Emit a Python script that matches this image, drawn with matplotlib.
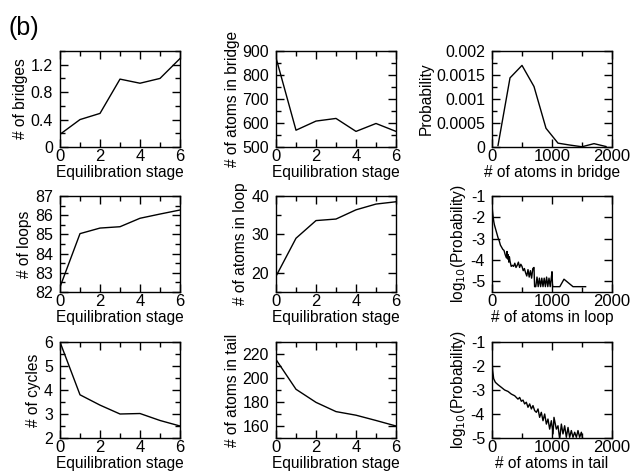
import matplotlib
matplotlib.use("Agg")
import matplotlib.pyplot as plt
from matplotlib.ticker import MultipleLocator, FuncFormatter

plt.rcParams['font.family'] = ['Liberation Sans', 'DejaVu Sans']

# ---------------- data ----------------
stage = [0, 1, 2, 3, 4, 5, 6]
n_bridges = [0.185, 0.40, 0.49, 0.99, 0.93, 1.00, 1.29]
atoms_bridge = [872, 570, 608, 619, 565, 598, 565]
n_loops = [82.26, 85.04, 85.33, 85.40, 85.84, 86.06, 86.27]
atoms_loop = [19.1, 29.0, 33.6, 34.0, 36.4, 37.9, 38.5]
n_cycles = [6.0, 3.8, 3.37, 3.0, 3.02, 2.73, 2.5]
atoms_tail = [215.4, 190.6, 179.7, 172.0, 169.0, 164.6, 160.0]

bridge_size = [100, 300, 500, 700, 900, 1100, 1300, 1500, 1700, 1900]
bridge_prob = [0.00003, 0.00144, 0.0017, 0.00126, 0.00039, 0.00008,
               0.00004, 0.000005, 0.00007, 0.00001]

loop_size = [0, 10, 20, 30, 40, 60, 80, 100, 120, 140, 160, 180, 200, 220,
             240, 250, 260, 270, 280, 290, 300, 320, 340, 360, 380, 400,
             420, 440, 460, 480, 500, 520, 540, 560, 580, 600, 620, 640,
             660, 680, 700, 710, 730, 750, 770, 790, 810, 830, 850, 870,
             890, 910, 930, 950, 970, 990, 1000, 1010, 1130, 1200, 1350, 1560]
loop_logp = [-1.45, -1.75, -2.0, -2.2, -2.35, -2.55, -2.75, -2.95, -3.1,
             -3.3, -3.4, -3.5, -3.55, -3.75, -3.9, -3.6, -3.95, -3.75, -4.1,
             -3.85, -4.05, -4.3, -4.25, -4.3, -4.15, -4.35, -4.25, -4.1,
             -4.35, -4.2, -4.3, -4.5, -4.4, -4.6, -4.75, -4.45, -4.8, -4.5,
             -4.85, -4.4, -4.35, -5.25, -5.25, -4.8, -5.25, -4.85, -5.25,
             -4.85, -5.25, -4.85, -5.25, -4.8, -5.25, -4.85, -5.25, -4.8,
             -4.55, -5.25, -5.25, -4.9, -5.25, -5.25]

tail_size = [0, 11, 28, 56, 100, 156, 211, 267, 322, 378, 433, 461, 489,
             517, 544, 572, 600, 628, 656, 683, 711, 739, 767, 794, 822,
             850, 878, 906, 933, 961, 989, 1017, 1033, 1072, 1100, 1128,
             1156, 1183, 1211, 1239, 1267, 1294, 1322, 1350, 1378, 1406,
             1433, 1461, 1489, 1506]
tail_logp = [-1.67, -2.19, -2.53, -2.68, -2.78, -2.89, -3.0, -3.06, -3.17,
             -3.24, -3.38, -3.31, -3.47, -3.42, -3.58, -3.51, -3.72, -3.58,
             -3.79, -3.65, -3.86, -3.93, -3.79, -4.14, -3.93, -4.28, -4.0,
             -4.42, -4.21, -4.63, -4.28, -4.83, -4.14, -4.63, -4.49, -5.05,
             -4.42, -4.83, -4.49, -4.97, -4.56, -4.97, -4.69, -4.97, -4.76,
             -4.97, -4.69, -4.97, -4.76, -4.97]

# ---------------- layout ----------------
W, H = 631, 476
fig = plt.figure(figsize=(W / 100, H / 100), dpi=100)

col_left = [60, 276, 492]
row_top = [51, 196, 342]
aw, ah = 120, 96

def make_ax(r, c):
    l = col_left[c] / W
    b = (H - row_top[r] - ah) / H
    return fig.add_axes([l, b, aw / W, ah / H])

fmt = FuncFormatter(lambda v, p: ('%g' % v).replace('\u2212', '-'))

def style(ax, xlim, ylim, xmaj, xmin, ymaj, ymin, xlabel, ylabel):
    ax.set_xlim(*xlim)
    ax.set_ylim(*ylim)
    ax.xaxis.set_major_locator(MultipleLocator(xmaj))
    ax.yaxis.set_major_locator(MultipleLocator(ymaj))
    if xmin:
        ax.xaxis.set_minor_locator(MultipleLocator(xmin))
    if ymin:
        ax.yaxis.set_minor_locator(MultipleLocator(ymin))
    ax.xaxis.set_major_formatter(fmt)
    ax.yaxis.set_major_formatter(fmt)
    ax.tick_params(which='both', direction='in', top=True, right=True,
                   width=1.0, colors='black')
    ax.tick_params(which='major', length=5.5)
    ax.tick_params(which='minor', length=3.5)
    ax.tick_params(axis='x', which='both', pad=1.5, labelsize=12)
    ax.tick_params(axis='y', which='both', pad=5, labelsize=11.5)
    for s in ax.spines.values():
        s.set_linewidth(1.0)
    ax.set_xlabel(xlabel, fontsize=11.2, labelpad=1)
    ax.set_ylabel(ylabel, fontsize=11.2, labelpad=2)

lw = 1.0
ax = make_ax(0, 0)
ax.plot(stage, n_bridges, color='black', lw=lw)
style(ax, (0, 6), (0, 1.4), 2, 1, 0.4, 0.2, 'Equilibration stage', '# of bridges')

ax = make_ax(0, 1)
ax.plot(stage, atoms_bridge, color='black', lw=lw)
style(ax, (0, 6), (500, 900), 2, 1, 100, 50, 'Equilibration stage', '# of atoms in bridge')

ax = make_ax(0, 2)
ax.plot(bridge_size, bridge_prob, color='black', lw=lw)
style(ax, (0, 2000), (0, 0.002), 1000, 500, 0.0005, 0.00025, '# of atoms in bridge', 'Probability')

ax = make_ax(1, 0)
ax.plot(stage, n_loops, color='black', lw=lw)
style(ax, (0, 6), (82, 87), 2, 1, 1, 0.5, 'Equilibration stage', '# of loops')

ax = make_ax(1, 1)
ax.plot(stage, atoms_loop, color='black', lw=lw)
style(ax, (0, 6), (15, 40), 2, 1, 10, 5, 'Equilibration stage', '# of atoms in loop')

ax = make_ax(1, 2)
ax.plot(loop_size, loop_logp, color='black', lw=lw)
style(ax, (0, 2000), (-5.5, -1), 1000, 500, 1, None, '# of atoms in loop', 'log$_{10}$(Probability)')

ax = make_ax(2, 0)
ax.plot(stage, n_cycles, color='black', lw=lw)
style(ax, (0, 6), (2, 6), 2, 1, 1, 0.5, 'Equilibration stage', '# of cycles')

ax = make_ax(2, 1)
ax.plot(stage, atoms_tail, color='black', lw=lw)
style(ax, (0, 6), (150, 230), 2, 1, 20, 10, 'Equilibration stage', '# of atoms in tail')

ax = make_ax(2, 2)
ax.plot(tail_size, tail_logp, color='black', lw=lw)
style(ax, (0, 2000), (-5, -1), 1000, 500, 1, None, '# of atoms in tail', 'log$_{10}$(Probability)')

fig.text(8 / W, 1 - 28 / H, '(b)', fontsize=18, va='center', ha='left')

fig.savefig('out.png', dpi=100)
